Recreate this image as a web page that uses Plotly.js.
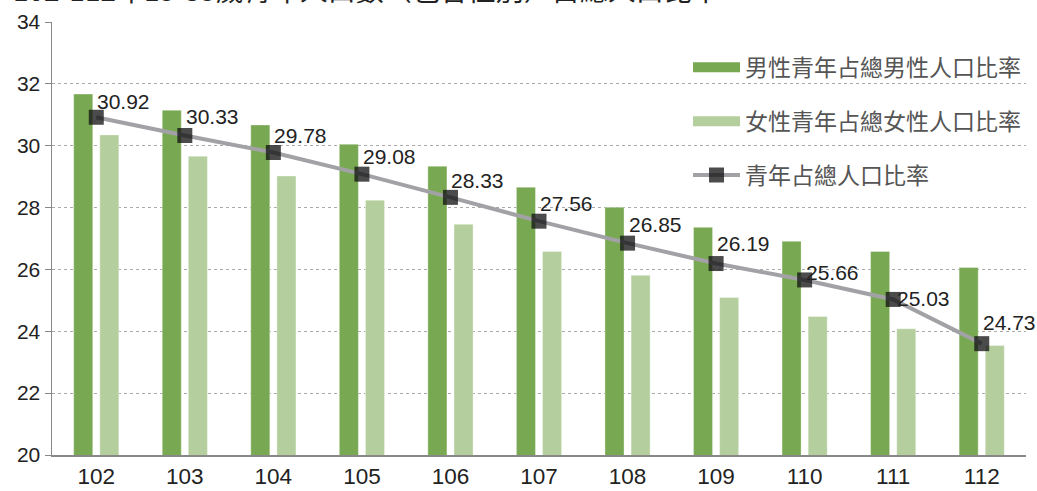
<!DOCTYPE html>
<html>
<head>
<meta charset="utf-8">
<script src="https://cdn.plot.ly/plotly-3.0.1.min.js"></script>
<style>html,body{margin:0;padding:0;background:#fff;}#chart{width:1037px;height:491px;}</style>
</head>
<body>
<div id="chart"></div>
<script>
// ---- data ----
const years = ['102','103','104','105','106','107','108','109','110','111','112'];
const maleRatio = [31.67, 31.15, 30.67, 30.05, 29.34, 28.66, 28.01, 27.36, 26.91, 26.58, 26.06];
const femaleRatio = [30.35, 29.66, 29.02, 28.24, 27.46, 26.58, 25.81, 25.09, 24.48, 24.08, 23.54];
const totalRatio = [30.92, 30.33, 29.78, 29.08, 28.33, 27.56, 26.85, 26.19, 25.66, 25.03, 23.6];
const totalLabels = ['30.92','30.33','29.78','29.08','28.33','27.56','26.85','26.19','25.66','25.03','24.73'];
const seriesNames = ['男性青年占總男性人口比率', '女性青年占總女性人口比率', '青年占總人口比率'];
const titleText = '102-112年15-35歲青年人口數（包含性別）占總人口比率';
const unitText = '單位：%';

// ---- style ----
const maleColor = '#79a852';
const femaleColor = '#b4cf9d';
const lineColor = '#a2a2a6';
const markerColor = 'rgba(18,18,20,0.76)';
const labelShift = [16, 19, 17, 18, 17, 18, 19, 20, 7, 1, 21];
const labelXShift = [0, 0, 0, 0, 0, 0, 0, 0, 0, 3, 0];
const numFont = 'Liberation Sans, Arial, sans-serif';
const cjkFont = 'Noto Sans CJK TC, Noto Sans, sans-serif';

const traces = [
  {type:'bar', x:years, y:maleRatio, name:seriesNames[0], showlegend:false,
   marker:{color:maleColor, line:{color:'rgba(255,255,255,0.35)', width:1}}},
  {type:'bar', x:years, y:femaleRatio, name:seriesNames[1], showlegend:false,
   marker:{color:femaleColor, line:{color:'rgba(255,255,255,0.35)', width:1}}},
  {type:'scatter', mode:'lines+markers', x:years, y:totalRatio, name:seriesNames[2], showlegend:false,
   line:{color:lineColor, width:4}, marker:{symbol:'square', size:15, color:markerColor}, cliponaxis:false},
  // legend proxies (draw nothing)
  {type:'scatter', mode:'lines', x:[years[0]], y:[null], name:seriesNames[0], legendgroup:'a',
   line:{color:maleColor, width:12}},
  {type:'scatter', mode:'lines', x:[years[0]], y:[null], name:seriesNames[1], legendgroup:'b',
   line:{color:femaleColor, width:12}},
  {type:'scatter', mode:'lines+markers', x:[years[0]], y:[null], name:seriesNames[2], legendgroup:'c',
   line:{color:lineColor, width:4}, marker:{symbol:'square', size:15, color:markerColor}}
];

const annotations = years.map((yr, i) => ({
  x: i, y: totalRatio[i], xref:'x', yref:'y', text: totalLabels[i], showarrow:false,
  xanchor:'left', yanchor:'middle', xshift:labelXShift[i], yshift:labelShift[i], borderpad:0,
  font:{family:numFont, size:21, color:'#222'}
}));
annotations.push({
  xref:'paper', yref:'paper', x:0, y:1, xanchor:'left', yanchor:'bottom', xshift:-40, yshift:12,
  text:titleText, showarrow:false, borderpad:0, font:{family:cjkFont, size:28, color:'#222'}
});
annotations.push({
  xref:'paper', yref:'paper', x:1, y:1, xanchor:'right', yanchor:'bottom', xshift:-21, yshift:17,
  text:unitText, showarrow:false, borderpad:0, font:{family:cjkFont, size:20, color:'#222'}
});

const layout = {
  width:1037, height:491,
  margin:{l:52, r:11, t:22, b:36},
  paper_bgcolor:'#fff', plot_bgcolor:'#fff',
  barmode:'group', bargap:0.41, bargroupgap:0.27,
  showlegend:true,
  legend:{x:0.653, y:0.945, xanchor:'left', yanchor:'top', bgcolor:'rgba(0,0,0,0)',
    font:{family:cjkFont, size:23, color:'#555'}, itemwidth:47, tracegroupgap:21, traceorder:'grouped'},
  xaxis:{type:'category', categoryorder:'array', categoryarray:years, range:[-0.5, years.length-0.5],
    showgrid:false, showline:true, linecolor:'#888', linewidth:1.5,
    ticks:'', tickangle:0, tickfont:{family:numFont, size:22.5, color:'#222'}, zeroline:false},
  yaxis:{range:[20,34], dtick:2, tick0:20, showgrid:true, gridcolor:'#aaa', griddash:'dot', gridwidth:1,
    showline:true, linecolor:'#888', linewidth:1.5, ticks:'outside', ticklen:6, tickcolor:'#888',
    tickfont:{family:numFont, size:21, color:'#222'}, zeroline:false},
  annotations: annotations
};

Plotly.newPlot('chart', traces, layout, {displayModeBar:false, staticPlot:true});
</script>
</body>
</html>
